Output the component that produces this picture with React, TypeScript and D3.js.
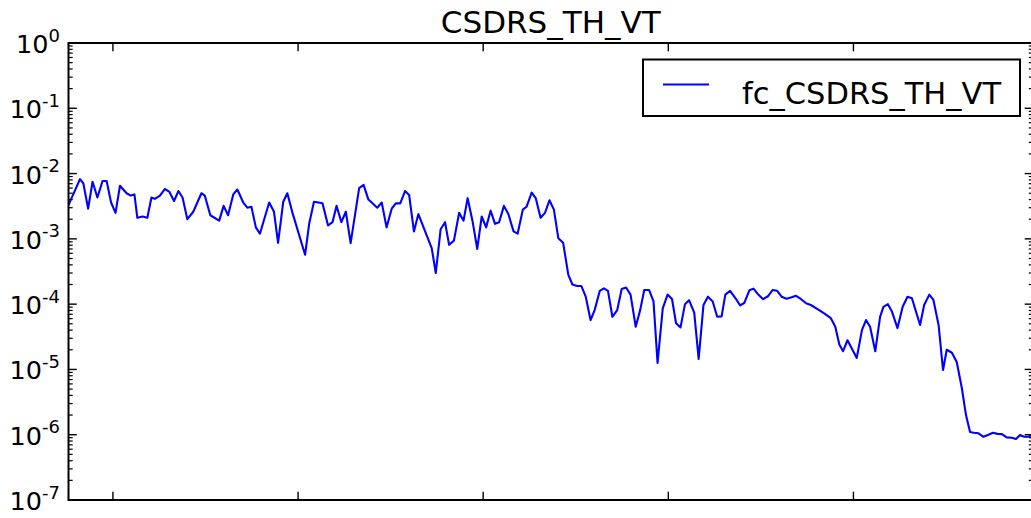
import React from "react";
import * as d3 from "d3";

// Series: fc_CSDRS_TH_VT (x position, value on a log scale)
const seriesX: number[] = [
  38.0, 41.1, 42.0, 43.3, 44.5, 45.8, 47.2, 48.3, 49.5, 50.7, 51.9, 53.7, 54.8, 55.8, 56.6, 58.0,
  59.3, 60.4, 61.3, 62.7, 64.0, 65.2, 66.5, 67.7, 68.8, 70.1, 71.7, 73.9, 74.8, 76.3, 78.7, 79.9,
  81.1, 82.5, 83.6, 85.2, 86.3, 87.4, 88.6, 89.7, 92.2, 93.5, 94.6, 96.0, 97.1, 98.5, 101.9, 103.0,
  104.3, 106.6, 108.1, 109.3, 110.4, 111.7, 112.9, 114.2, 116.5, 117.7, 119.0, 120.1, 121.4, 122.6,
  123.9, 125.3, 126.4, 127.6, 128.9, 130.0, 131.3, 132.5, 134.0, 136.1, 137.2, 138.5, 139.7, 140.8,
  142.1, 143.5, 144.7, 145.8, 147.1, 148.4, 149.6, 150.8, 152.0, 153.2, 154.3, 155.6, 156.8, 158.2,
  159.3, 160.7, 161.7, 163.1, 164.2, 165.5, 166.7, 167.9, 169.1, 170.3, 171.6, 173.0, 174.1, 175.4,
  176.5, 177.7, 179.0, 180.1, 181.5, 182.6, 183.7, 184.9, 186.2, 187.4, 188.6, 189.8, 191.2, 192.4,
  193.5, 194.8, 196.0, 197.1, 198.5, 199.8, 201.0, 202.1, 203.3, 204.5, 205.6, 207.0, 208.2, 209.5,
  210.7, 212.0, 213.2, 214.4, 215.4, 216.7, 218.1, 219.4, 220.5, 221.9, 223.0, 224.3, 225.6, 226.9,
  228.2, 229.4, 230.6, 231.9, 233.1, 234.5, 235.8, 237.2, 238.5, 240.3, 242.1, 243.9, 245.1, 246.2,
  247.2, 248.4, 250.9, 252.3, 253.4, 254.5, 255.9, 257.2, 258.1, 259.3, 260.4, 261.9, 263.3, 264.6,
  265.8, 268.0, 269.1, 270.5, 271.6, 273.0, 274.2, 275.2, 276.6, 277.9, 279.3, 280.4, 281.5, 282.6,
  283.8, 285.1, 286.3, 287.7, 288.9, 290.1, 291.4, 292.8, 293.9, 295.0, 296.1, 297.3, 298.0,
];

const seriesY: number[] = [
  3.3e-3, 8.2e-3, 7.1e-3, 2.9e-3, 7.5e-3, 4.3e-3, 7.7e-3, 7.7e-3, 3.6e-3, 2.5e-3, 6.5e-3, 5.0e-3, 4.6e-3, 4.8e-3, 2.1e-3, 2.2e-3,
  2.1e-3, 4.3e-3, 4.1e-3, 4.6e-3, 5.8e-3, 5.3e-3, 3.8e-3, 5.4e-3, 4.3e-3, 2.0e-3, 2.6e-3, 5.0e-3, 4.6e-3, 2.3e-3, 1.9e-3, 3.2e-3,
  2.3e-3, 4.8e-3, 5.7e-3, 3.6e-3, 3.0e-3, 3.1e-3, 1.5e-3, 1.2e-3, 3.6e-3, 2.6e-3, 8.7e-4, 3.7e-3, 5.0e-3, 2.5e-3, 5.7e-4, 1.7e-3,
  3.7e-3, 3.5e-3, 1.6e-3, 1.8e-3, 3.2e-3, 1.8e-3, 2.6e-3, 8.6e-4, 6.0e-3, 6.7e-3, 4.0e-3, 3.5e-3, 3.0e-3, 3.6e-3,
  1.5e-3, 2.9e-3, 3.5e-3, 3.5e-3, 5.4e-3, 4.7e-3, 1.3e-3, 2.4e-3, 1.45e-3, 7.2e-4, 3.0e-4, 1.4e-3, 1.8e-3, 8.1e-4,
  9.4e-4, 2.5e-3, 1.9e-3, 4.2e-3, 1.9e-3, 7.0e-4, 2.2e-3, 1.5e-3, 2.7e-3, 1.7e-3, 1.8e-3, 3.2e-3, 2.4e-3, 1.3e-3,
  1.2e-3, 2.8e-3, 3.1e-3, 5.1e-3, 4.2e-3, 2.1e-3, 2.5e-3, 3.9e-3, 2.8e-3, 1.02e-3, 8.7e-4, 2.8e-4, 2.0e-4, 1.9e-4,
  1.9e-4, 1.3e-4, 5.7e-5, 8.1e-5, 1.6e-4, 1.75e-4, 1.6e-4, 6.4e-5, 8.1e-5, 1.7e-4, 1.8e-4, 1.4e-4, 4.5e-5, 8.1e-5,
  1.65e-4, 1.65e-4, 1.1e-4, 1.26e-5, 8.6e-5, 1.4e-4, 1.2e-4, 5.1e-5, 4.4e-5, 1.0e-4, 1.15e-4, 7.4e-5, 1.45e-5, 9.7e-5,
  1.3e-4, 1.1e-4, 6.4e-5, 6.5e-5, 1.4e-4, 1.6e-4, 1.24e-4, 9.6e-5, 1.04e-4, 1.63e-4, 1.73e-4, 1.4e-4, 1.19e-4, 1.32e-4,
  1.65e-4, 1.6e-4, 1.3e-4, 1.21e-4, 1.26e-4, 1.34e-4, 1.2e-4, 1.03e-4, 9.7e-5, 8.4e-5, 7.2e-5, 6.1e-5, 4.5e-5, 2.4e-5,
  1.9e-5, 2.8e-5, 1.5e-5, 4.0e-5, 5.7e-5, 4.5e-5, 1.9e-5, 6.4e-5, 9.1e-5, 1.0e-4, 7.7e-5, 4.3e-5, 9.1e-5, 1.3e-4,
  1.23e-4, 4.8e-5, 9.7e-5, 1.4e-4, 1.16e-4, 4.8e-5, 9.8e-6, 2.0e-5, 1.8e-5, 1.3e-5, 5.1e-6, 2.0e-6, 1.1e-6, 1.07e-6,
  1.05e-6, 9.3e-7, 9.9e-7, 1.07e-6, 1.03e-6, 1.02e-6, 9.1e-7, 9.0e-7, 8.6e-7, 9.9e-7, 9.3e-7, 9.3e-7, 9.6e-7,
];

const xTicks: number[] = [50, 100, 150, 200, 250];
const yExponents: number[] = [0, -1, -2, -3, -4, -5, -6, -7];

const title = "CSDRS_TH_VT";
const legendLabel = "fc_CSDRS_TH_VT";

const W = 1031;
const H = 518;
const left = 68.5;
const right = 1033;
const top = 43;
const bottom = 500;

const FONT = "'DejaVu Sans', sans-serif";
const BLUE = "#0000ff";

export default function App() {
  const x = d3.scaleLinear().domain([38, 298.5]).range([left, right]);
  const y = d3.scaleLog().domain([1e-7, 1]).range([bottom, top]);

  const points: [number, number][] = seriesX.map((v, i) => [v, seriesY[i]]);
  const line = d3
    .line<[number, number]>()
    .x((d) => x(d[0]))
    .y((d) => y(d[1]));

  // minor log ticks: 2..9 within each decade
  const minor: number[] = [];
  for (let e = -7; e < 0; e++) {
    for (let m = 2; m <= 9; m++) minor.push(m * Math.pow(10, e));
  }

  const major = 8.3;
  const minorLen = 4.2;
  const sw = 2;

  return (
    <svg
      width={W}
      height={H}
      style={{ position: "absolute", left: 0, top: 0, background: "#fff" }}
      fontFamily={FONT}
    >
      <rect x={0} y={0} width={W} height={H} fill="#fff" />
      <defs>
        <clipPath id="plot-clip">
          <rect x={left} y={top} width={right - left} height={bottom - top} />
        </clipPath>
      </defs>

      {/* data line */}
      <path
        d={line(points) || ""}
        fill="none"
        stroke={BLUE}
        strokeWidth={2.1}
        strokeLinejoin="round"
        clipPath="url(#plot-clip)"
      />

      {/* x ticks, inward at bottom and top */}
      {xTicks.map((t) => (
        <g key={"xt" + t}>
          <line x1={x(t)} x2={x(t)} y1={bottom} y2={bottom - major} stroke="#000" strokeWidth={1.4} />
          <line x1={x(t)} x2={x(t)} y1={top} y2={top + major} stroke="#000" strokeWidth={1.4} />
        </g>
      ))}

      {/* y major ticks and labels */}
      {yExponents.map((e) => {
        const yy = y(Math.pow(10, e));
        return (
          <g key={"ym" + e}>
            <line x1={left} x2={left + major} y1={yy} y2={yy} stroke="#000" strokeWidth={1.4} />
            <line x1={right} x2={right - major} y1={yy} y2={yy} stroke="#000" strokeWidth={1.4} />
            <text x={60} y={yy + 10} textAnchor="end" fontSize={25.5} fill="#000">
              10
              <tspan dy={-11.5} fontSize={18}>
                {e < 0 ? "-" + Math.abs(e) : String(e)}
              </tspan>
            </text>
          </g>
        );
      })}

      {/* y minor ticks */}
      {minor.map((v, i) => {
        const yy = y(v);
        return (
          <g key={"yn" + i}>
            <line x1={left} x2={left + minorLen} y1={yy} y2={yy} stroke="#000" strokeWidth={1.2} />
            <line x1={right} x2={right - minorLen} y1={yy} y2={yy} stroke="#000" strokeWidth={1.2} />
          </g>
        );
      })}

      {/* frame */}
      <rect
        x={left}
        y={top}
        width={right - left}
        height={bottom - top}
        fill="none"
        stroke="#000"
        strokeWidth={sw}
      />

      {/* title */}
      <text x={(left + right) / 2} y={32.5} textAnchor="middle" fontSize={31} fill="#000">
        {title}
      </text>

      {/* legend */}
      <g>
        <rect x={643} y={59.5} width={377} height={56.5} fill="#fff" stroke="#000" strokeWidth={2} />
        <line x1={663} x2={709} y1={84.5} y2={84.5} stroke={BLUE} strokeWidth={2.1} />
        <text x={742} y={103.5} fontSize={30.5} fill="#000">
          {legendLabel}
        </text>
      </g>
    </svg>
  );
}
